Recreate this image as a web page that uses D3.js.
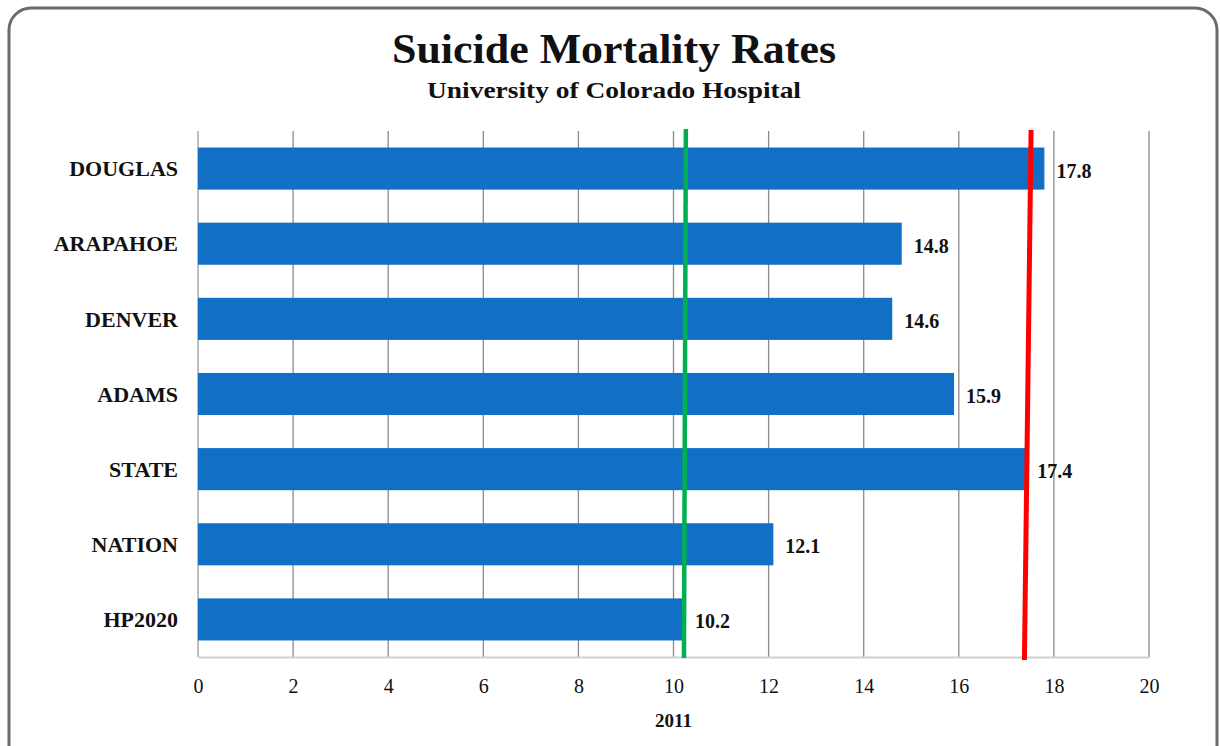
<!DOCTYPE html>
<html>
<head>
<meta charset="utf-8">
<script src="https://cdn.jsdelivr.net/npm/d3@7"></script>
<style>
  body { margin: 0; background: #fff; }
  text { font-family: "Liberation Serif", "DejaVu Serif", serif; fill: #111; }
</style>
</head>
<body>
<svg id="chart"></svg>
<script>
// data
const categories = ["DOUGLAS", "ARAPAHOE", "DENVER", "ADAMS", "STATE", "NATION", "HP2020"];
const rates = [17.8, 14.8, 14.6, 15.9, 17.4, 12.1, 10.2];
const xTicks = [0, 2, 4, 6, 8, 10, 12, 14, 16, 18, 20];
const greenLine = [10.26, 10.22];   // top, bottom (HP2020 target)
const redLine = [17.52, 17.38];     // top, bottom (state rate, drawn by hand)
const xLabel = "2011";

const width = 1220, height = 746;
const margin = { top: 131, right: 71, bottom: 89, left: 198 };

const svg = d3.select("#chart")
    .attr("width", width)
    .attr("height", height);

// frame
svg.append("rect")
    .attr("x", 9).attr("y", 8)
    .attr("width", 1208).attr("height", 760)
    .attr("rx", 22)
    .attr("fill", "#fff")
    .attr("stroke", "#6b6b6b")
    .attr("stroke-width", 3);

// titles
svg.append("text")
    .attr("x", 614).attr("y", 63)
    .attr("text-anchor", "middle")
    .attr("font-size", 42)
    .attr("font-weight", "bold")
    .attr("textLength", 444)
    .attr("lengthAdjust", "spacingAndGlyphs")
    .text("Suicide Mortality Rates");

svg.append("text")
    .attr("x", 614).attr("y", 98)
    .attr("text-anchor", "middle")
    .attr("font-size", 23)
    .attr("font-weight", "bold")
    .attr("textLength", 374)
    .attr("lengthAdjust", "spacingAndGlyphs")
    .text("University of Colorado Hospital");

const x = d3.scaleLinear()
    .domain([0, 20])
    .range([margin.left, width - margin.right]);

const y = d3.scaleBand()
    .domain(categories)
    .range([margin.top, height - margin.bottom])
    .paddingInner(0.44)
    .paddingOuter(0.22);

// grid lines
svg.append("g")
    .selectAll("line")
    .data(xTicks.slice(1))
    .join("line")
    .attr("x1", d => x(d)).attr("x2", d => x(d))
    .attr("y1", margin.top).attr("y2", height - margin.bottom)
    .attr("stroke", "#8a8a8a")
    .attr("stroke-width", 1.3);

// left axis line
svg.append("line")
    .attr("x1", x(0)).attr("x2", x(0))
    .attr("y1", margin.top).attr("y2", height - margin.bottom)
    .attr("stroke", "#a8a8a8")
    .attr("stroke-width", 1.5);

// bottom axis
const xAxis = svg.append("g")
    .attr("transform", `translate(0,${height - margin.bottom})`)
    .call(d3.axisBottom(x).tickValues(xTicks).tickSize(0).tickPadding(22));
xAxis.select(".domain").attr("stroke", "#cfcfcf").attr("stroke-width", 2);
xAxis.selectAll("text")
    .attr("font-size", 20)
    .attr("font-family", "'Liberation Serif', serif")
    .attr("fill", "#111");

svg.append("text")
    .attr("x", x(10)).attr("y", 727)
    .attr("text-anchor", "middle")
    .attr("font-size", 19)
    .attr("font-weight", "bold")
    .text(xLabel);

// bars
svg.append("g")
    .selectAll("rect")
    .data(rates)
    .join("rect")
    .attr("x", x(0))
    .attr("y", (d, i) => y(categories[i]))
    .attr("width", d => x(d) - x(0))
    .attr("height", y.bandwidth())
    .attr("fill", "#1170c6");

// category labels
svg.append("g")
    .selectAll("text")
    .data(categories)
    .join("text")
    .attr("x", 178)
    .attr("y", d => y(d) + y.bandwidth() / 2)
    .attr("dy", "0.35em")
    .attr("text-anchor", "end")
    .attr("font-size", 22)
    .attr("font-weight", "bold")
    .text(d => d);

// reference lines
svg.append("line")
    .attr("x1", x(greenLine[0])).attr("x2", x(greenLine[1]))
    .attr("y1", margin.top - 2).attr("y2", height - margin.bottom + 1)
    .attr("stroke", "#00b050")
    .attr("stroke-width", 4.5);

svg.append("line")
    .attr("x1", x(redLine[0])).attr("x2", x(redLine[1]))
    .attr("y1", margin.top - 1).attr("y2", height - margin.bottom + 3)
    .attr("stroke", "#ff0000")
    .attr("stroke-width", 5);

// value labels
svg.append("g")
    .selectAll("text")
    .data(rates)
    .join("text")
    .attr("x", d => x(d) + 12)
    .attr("y", (d, i) => y(categories[i]) + y.bandwidth() / 2 + 2)
    .attr("dy", "0.35em")
    .attr("font-size", 20)
    .attr("font-weight", "bold")
    .text(d => d.toFixed(1));
</script>
</body>
</html>
